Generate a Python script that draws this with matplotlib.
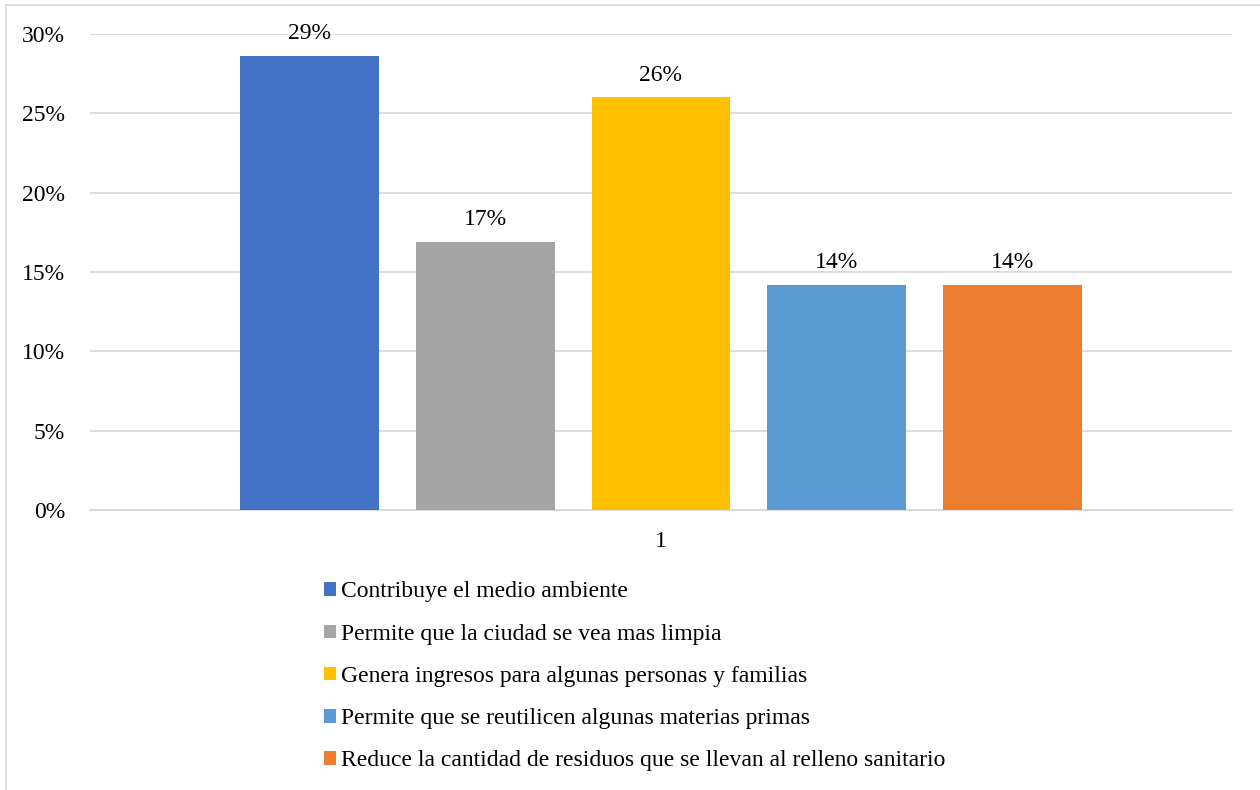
import numpy as np
import matplotlib.pyplot as plt
from matplotlib.patches import Rectangle

# 数据
categorias = ['Contribuye el medio ambiente',
              'Permite que la ciudad se vea mas limpia',
              'Genera ingresos para algunas personas y familias',
              'Permite que se reutilicen algunas materias primas',
              'Reduce la cantidad de residuos que se llevan al relleno sanitario']
valores = [0.286, 0.169, 0.260, 0.142, 0.142]
etiquetas = ['29%', '17%', '26%', '14%', '14%']
colores = ['#4472C4', '#A5A5A5', '#FFC000', '#5B9BD5', '#ED7D31']
yticks = [0, 0.05, 0.10, 0.15, 0.20, 0.25, 0.30]
ytick_labels = ['0%', '5%', '10%', '15%', '20%', '25%', '30%']

plt.rcParams['font.family'] = ['Liberation Serif', 'DejaVu Serif']
fs = 17

fig = plt.figure(figsize=(12.6, 7.9), dpi=100)
ax = fig.add_axes([90 / 1260, 1 - 510 / 790, 1142 / 1260, 476 / 790])

paso = 0.1537
ancho = 0.1217
pos = (np.arange(len(valores)) - 2) * paso
barras = ax.bar(pos, valores, width=ancho, color=colores, zorder=3)

for x, v, t in zip(pos, valores, etiquetas):
    ax.annotate(t, (x, v), xytext=(0, 16), textcoords='offset points',
                ha='center', va='center', fontsize=fs)

ax.set_xlim(-0.5, 0.5)
ax.set_ylim(0, 0.30)
ax.set_yticks(yticks)
ax.set_yticklabels(ytick_labels, fontsize=fs)
ax.set_xticks([0])
ax.set_xticklabels(['1'], fontsize=fs)
ax.tick_params(axis='both', length=0)
ax.tick_params(axis='y', pad=18)
ax.tick_params(axis='x', pad=15)
ax.grid(axis='y', color='#D9D9D9', lw=1.3, zorder=0)
for s in ['top', 'right', 'left']:
    ax.spines[s].set_visible(False)
ax.spines['bottom'].set_color('#D9D9D9')
ax.spines['bottom'].set_linewidth(1.3)

# 图例
leg = fig.legend(barras, categorias, loc='upper left',
                 bbox_to_anchor=(315 / 1260, 1 - 572 / 790),
                 frameon=False, fontsize=fs, handlelength=0.5, handleheight=0.5,
                 handletextpad=0.2, labelspacing=0.9, borderaxespad=0)

# 外框
fig.patches.append(Rectangle((6 / 1260, -0.1), 1.2, 1 - 5 / 790 + 0.1,
                             transform=fig.transFigure, fill=False,
                             edgecolor='#D9D9D9', lw=1.3))

fig.savefig('out.png', dpi=100)
